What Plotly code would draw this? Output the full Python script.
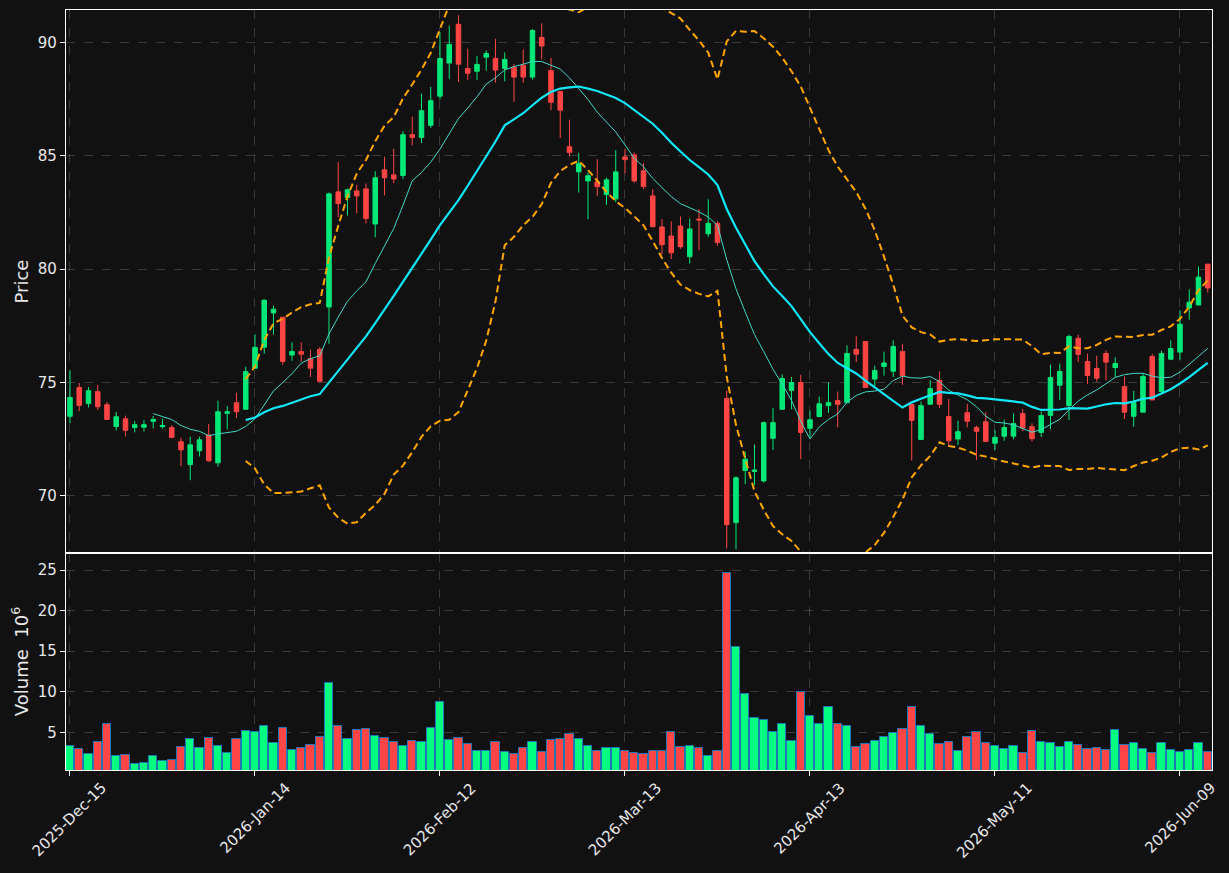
import pandas as pd
import plotly.graph_objects as go

# ---------------- data ----------------
holidays = ["2025-12-25", "2026-01-01", "2026-01-19", "2026-02-16", "2026-04-03", "2026-05-25"]

open_ = [73.51, 74.78, 74.07, 74.60, 74.02, 73.06, 73.40, 73.01, 73.03, 73.29,
         73.05, 73.01, 72.39, 71.38, 71.99, 72.68, 71.46, 73.64, 74.11, 73.82,
         75.63, 76.56, 78.07, 77.88, 76.21, 76.37, 76.05, 76.46, 78.33, 83.41,
         83.16, 83.45, 83.54, 81.99, 84.38, 84.16, 84.13, 85.93, 85.81, 86.34,
         87.63, 89.09, 90.80, 88.85, 88.73, 89.35, 89.29, 88.85, 88.91, 88.98,
         88.47, 90.22, 88.76, 87.83, 85.40, 84.29, 83.89, 83.85, 83.29, 83.10,
         84.95, 85.04, 84.34, 83.23, 81.86, 81.46, 81.90, 80.55, 82.21, 81.56,
         82.02, 74.29, 68.82, 71.12, 71.08, 70.66, 72.54, 73.82, 74.65, 75.00,
         72.98, 73.50, 73.98, 74.20, 74.11, 76.46, 76.81, 75.15, 75.71, 75.50,
         76.37, 74.03, 72.49, 74.04, 75.09, 73.50, 72.51, 73.67, 73.01, 73.27,
         72.32, 72.63, 72.63, 73.63, 73.05, 72.80, 73.55, 74.88, 73.98, 76.95,
         75.93, 75.62, 76.28, 75.66, 74.82, 73.51, 73.69, 76.15, 74.60, 76.03,
         76.34, 78.29, 78.42, 80.22]
high = [75.53, 74.98, 74.80, 74.89, 74.14, 73.70, 73.54, 73.30, 73.34, 73.52,
        73.40, 73.12, 72.56, 72.61, 72.61, 73.17, 74.20, 73.96, 74.55, 75.70,
        77.11, 78.67, 78.39, 77.88, 76.77, 76.77, 76.45, 76.56, 83.38, 84.72,
        83.55, 83.72, 83.78, 84.32, 84.96, 85.31, 86.09, 86.73, 87.74, 88.04,
        90.45, 90.74, 91.20, 89.72, 89.41, 89.65, 90.16, 89.56, 89.06, 89.69,
        90.58, 90.84, 89.32, 87.83, 86.59, 85.12, 84.26, 84.85, 84.04, 85.25,
        85.31, 85.15, 84.68, 83.53, 82.21, 82.11, 82.32, 82.23, 82.64, 83.08,
        82.12, 74.65, 70.86, 71.96, 72.26, 73.28, 73.88, 75.36, 75.24, 75.34,
        73.76, 74.38, 74.99, 74.60, 76.64, 77.04, 76.81, 75.74, 76.36, 76.86,
        76.71, 74.03, 74.16, 75.12, 75.49, 74.28, 73.32, 74.06, 73.10, 73.69,
        72.91, 73.36, 73.64, 73.83, 73.20, 73.72, 75.78, 75.83, 77.11, 77.11,
        76.27, 76.18, 76.42, 76.11, 75.27, 74.63, 75.41, 76.27, 76.40, 76.86,
        78.19, 79.10, 80.12, 80.22]
low = [73.20, 73.74, 73.90, 73.79, 73.37, 72.89, 72.62, 72.80, 72.84, 72.98,
       72.96, 72.58, 71.31, 70.69, 71.74, 71.50, 71.29, 72.93, 73.43, 73.82,
       75.60, 76.27, 77.11, 75.78, 75.96, 75.92, 75.24, 75.05, 76.71, 82.29,
       82.36, 82.46, 82.02, 81.40, 83.25, 83.79, 83.97, 85.46, 85.56, 86.22,
       87.48, 88.39, 88.26, 88.35, 88.35, 88.75, 88.22, 88.29, 87.38, 88.22,
       88.36, 89.25, 87.01, 85.78, 84.97, 83.38, 82.20, 83.23, 82.83, 82.95,
       84.23, 83.82, 83.53, 81.87, 80.65, 80.44, 80.90, 80.25, 80.84, 81.43,
       81.03, 67.68, 67.64, 70.52, 70.47, 70.59, 72.02, 73.82, 73.82, 71.62,
       72.58, 73.47, 73.66, 73.02, 74.11, 75.90, 74.78, 74.82, 75.30, 75.24,
       74.90, 71.55, 72.49, 74.04, 73.88, 72.17, 72.24, 73.02, 71.58, 72.40,
       72.02, 72.43, 72.50, 72.85, 72.40, 72.60, 72.95, 74.23, 73.35, 75.90,
       74.94, 75.04, 75.09, 75.24, 73.39, 73.05, 73.69, 74.23, 74.50, 76.00,
       76.00, 77.77, 78.42, 78.97]
close = [74.34, 73.99, 74.64, 73.93, 73.37, 73.49, 72.89, 73.14, 73.14, 73.37,
         73.11, 72.58, 72.03, 72.25, 72.47, 71.55, 73.71, 73.71, 73.71, 75.48,
         76.55, 78.63, 78.23, 75.93, 76.37, 76.25, 75.63, 75.05, 83.32, 82.89,
         83.50, 83.23, 82.23, 84.03, 84.03, 83.98, 85.93, 85.81, 86.99, 87.43,
         89.29, 89.91, 89.04, 88.64, 89.03, 89.51, 88.78, 89.25, 88.47, 88.47,
         90.53, 89.84, 87.36, 87.01, 85.15, 84.65, 84.12, 83.64, 83.94, 84.29,
         84.83, 83.89, 83.64, 81.87, 81.08, 80.72, 80.99, 81.77, 82.17, 82.02,
         81.17, 68.73, 70.80, 71.62, 71.14, 73.23, 73.23, 75.18, 75.00, 72.80,
         73.36, 74.06, 74.11, 74.04, 76.28, 76.25, 74.78, 75.53, 75.86, 76.59,
         75.30, 73.33, 73.98, 74.73, 74.04, 72.43, 72.83, 73.29, 72.85, 72.40,
         72.58, 73.01, 73.19, 72.99, 72.52, 73.54, 75.22, 75.49, 77.03, 76.24,
         75.31, 75.19, 75.90, 75.84, 73.69, 74.11, 75.27, 74.23, 76.28, 76.50,
         77.57, 78.54, 79.65, 79.17]
volume = [3.27, 2.90, 2.28, 3.77, 5.99, 2.04, 2.16, 1.05, 1.17, 2.04,
          1.42, 1.54, 3.15, 4.14, 3.03, 4.26, 3.27, 2.41, 4.14, 5.12,
          5.00, 5.74, 3.64, 5.49, 2.78, 3.03, 3.40, 4.38, 11.05, 5.74,
          4.14, 5.25, 5.37, 4.51, 4.26, 3.77, 3.27, 3.89, 3.77, 5.49,
          8.70, 4.01, 4.26, 3.52, 2.65, 2.65, 3.77, 2.53, 2.28, 3.03,
          3.77, 2.53, 4.01, 4.14, 4.75, 4.14, 3.27, 2.65, 3.03, 3.03,
          2.65, 2.41, 2.28, 2.65, 2.65, 5.00, 3.15, 3.27, 3.03, 2.04,
          2.65, 24.63, 15.49, 9.69, 6.73, 6.48, 5.00, 5.99, 3.89, 9.94,
          6.97, 5.99, 8.09, 5.99, 5.74, 3.15, 3.52, 3.89, 4.38, 4.88,
          5.37, 8.09, 5.74, 4.75, 3.52, 3.77, 2.65, 4.38, 5.00, 3.64,
          3.27, 2.90, 3.27, 2.41, 5.12, 3.77, 3.64, 3.15, 3.77, 3.40,
          2.90, 3.03, 2.78, 5.25, 3.40, 3.64, 2.90, 2.41, 3.64, 2.78,
          2.53, 2.78, 3.64, 2.53]

dates = pd.bdate_range("2025-12-15", periods=len(close), freq="C", holidays=holidays)
idx = list(range(len(close)))
tick_idx = idx[::20]
tick_labels = [d.strftime("%Y-%b-%d") for d in dates[::20]]

# indicators derived from closes
s = pd.Series(close)
ma10 = s.rolling(10).mean()
ma20 = s.rolling(20).mean()
sd20 = s.rolling(20).std(ddof=0)
upper = ma20 + 2 * sd20
lower = ma20 - 2 * sd20

# ---------------- styles ----------------
BG = "#111111"
UP = "#00e878"
DOWN = "#ff4444"
VUP = "#00ff80"
VDOWN = "#ff4545"
GRID = "rgba(255,255,255,0.17)"
TXT = "#e8e8e8"

fig = go.Figure()
fig.add_trace(go.Candlestick(
    x=idx, open=open_, high=high, low=low, close=close,
    increasing=dict(line=dict(color=UP, width=1), fillcolor=UP),
    decreasing=dict(line=dict(color=DOWN, width=1), fillcolor=DOWN),
    whiskerwidth=0, xaxis="x", yaxis="y", showlegend=False, hoverinfo="skip"))
band_line = dict(color="#ffa500", width=2, dash="7px,4px")
fig.add_trace(go.Scatter(x=idx, y=upper, mode="lines", line=band_line,
                         xaxis="x", yaxis="y", showlegend=False))
fig.add_trace(go.Scatter(x=idx, y=lower, mode="lines", line=band_line,
                         xaxis="x", yaxis="y", showlegend=False))
fig.add_trace(go.Scatter(x=idx, y=ma10, mode="lines", line=dict(color="#40d8c8", width=1),
                         xaxis="x", yaxis="y", showlegend=False))
fig.add_trace(go.Scatter(x=idx, y=ma20, mode="lines", line=dict(color="#10e8f8", width=2.2),
                         xaxis="x", yaxis="y", showlegend=False))

vcolors = [VUP if c >= o else VDOWN for o, c in zip(open_, close)]
fig.add_trace(go.Bar(x=idx, y=volume, width=0.9, marker=dict(color=vcolors, line=dict(color="#1f77b4", width=1)),
                     xaxis="x2", yaxis="y2", showlegend=False))

split = 217 / 760
axis_common = dict(showline=True, linecolor="white", linewidth=1.2, mirror=True,
                   gridcolor=GRID, griddash="dash", gridwidth=1, zeroline=False)
xr = [-0.43, 123.46]

# rotated date labels centred under their ticks (matplotlib-style)
annotations = [dict(x=t, y=0, xref="x2", yref="paper", text=lab, showarrow=False,
                    textangle=-45, xanchor="center", yanchor="top", yshift=-6,
                    font=dict(family="DejaVu Sans", size=15, color=TXT))
               for t, lab in zip(tick_idx, tick_labels)]

fig.update_layout(
    width=1229, height=873,
    paper_bgcolor=BG, plot_bgcolor=BG,
    margin=dict(l=66, r=17, t=10, b=103),
    font=dict(family="DejaVu Sans", size=15, color=TXT),
    showlegend=False,
    bargap=0,
    annotations=annotations,
    xaxis=dict(domain=[0, 1], anchor="y", range=xr, tickvals=tick_idx, showticklabels=False,
               rangeslider=dict(visible=False), **axis_common),
    xaxis2=dict(domain=[0, 1], anchor="y2", range=xr, matches="x", tickvals=tick_idx, showticklabels=False,
                ticks="outside", ticklen=5, tickcolor="white", **axis_common),
    yaxis=dict(domain=[split, 1], anchor="x", range=[67.48, 91.43], tickvals=[70, 75, 80, 85, 90],
               ticks="outside", ticklen=5, tickcolor="white",
               title=dict(text="Price", standoff=4), **axis_common),
    yaxis2=dict(domain=[0, split], anchor="x2", range=[0.35, 27.1], tickvals=[5, 10, 15, 20, 25],
                ticks="outside", ticklen=5, tickcolor="white",
                title=dict(text="Volume  10<sup>6</sup>", standoff=4), **axis_common),
)

fig.write_html("out.html")
